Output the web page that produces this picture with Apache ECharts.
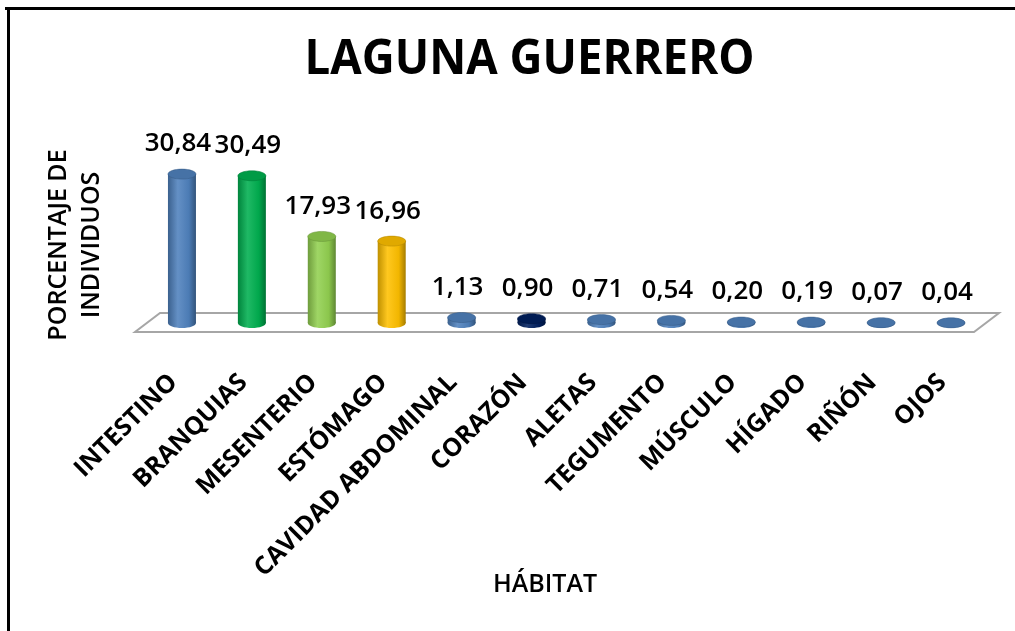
<!DOCTYPE html>
<html><head><meta charset="utf-8">
<script src="https://cdn.jsdelivr.net/npm/echarts@6/dist/echarts.min.js"></script>
<style>html,body{margin:0;padding:0;background:#fff;}#c{width:1015px;height:631px;}</style>
</head><body><div id="c"></div>
<script>
const title = 'LAGUNA GUERRERO';
const xTitle = 'HÁBITAT';
const yTitle = 'PORCENTAJE DE\nINDIVIDUOS';
const categories = ['INTESTINO','BRANQUIAS','MESENTERIO','ESTÓMAGO','CAVIDAD ABDOMINAL','CORAZÓN','ALETAS','TEGUMENTO','MÚSCULO','HÍGADO','RIÑÓN','OJOS'];
const values = [30.84,30.49,17.93,16.96,1.13,0.90,0.71,0.54,0.20,0.19,0.07,0.04];
const barColors = ['#4F81BD','#00B050','#92D050','#FFC000','#4F81BD','#002060','#4F81BD','#4F81BD','#4F81BD','#4F81BD','#4F81BD','#4F81BD'];

function shade(hex, f){
  const n = parseInt(hex.slice(1),16);
  let r=(n>>16)&255,g=(n>>8)&255,b=n&255;
  const t = f<0?0:255, p=Math.abs(f);
  r=Math.round((t-r)*p+r); g=Math.round((t-g)*p+g); b=Math.round((t-b)*p+b);
  return 'rgb('+r+','+g+','+b+')';
}
function bodyGrad(c){
  return new echarts.graphic.LinearGradient(0,0,1,0,[
    {offset:0,color:shade(c,-0.25)},
    {offset:0.35,color:shade(c,0.12)},
    {offset:0.75,color:shade(c,-0.05)},
    {offset:1,color:shade(c,-0.35)}
  ]);
}
const fmt = v => v.toFixed(2).replace('.', ',');

const chart = echarts.init(document.getElementById('c'), null, {renderer:'canvas'});
const FONT = "'Open Sans', 'Liberation Sans', sans-serif";

chart.setOption({
  animation:false,
  backgroundColor:'#fff',
  grid:{left:147, right:29, top:154, bottom:308, containLabel:false},
  xAxis:{
    type:'category', data:categories,
    axisLine:{show:false}, axisTick:{show:false}, splitLine:{show:false},
    axisLabel:{
      interval:0, rotate:45, margin:47, padding:[0,12,0,0],
      fontFamily:FONT, fontWeight:'bold', fontSize:25, color:'#000'
    }
  },
  yAxis:{type:'value', min:0, max:35, show:false},
  graphic:[
    {type:'line', shape:{x1:5,y1:8.5,x2:1015,y2:8.5}, style:{stroke:'#000',lineWidth:3}},
    {type:'line', shape:{x1:8.5,y1:7,x2:8.5,y2:631}, style:{stroke:'#000',lineWidth:3}},
    {type:'text', x:529.5, y:60, scaleX:0.93, style:{text:title, x:0, y:0, align:'center', verticalAlign:'middle',
      font:"bold 49px "+FONT, fill:'#000'}},
    {type:'text', x:545, y:585, style:{text:xTitle, x:0, y:0, align:'center', verticalAlign:'middle',
      font:"600 25px "+FONT, fill:'#000'}},
    {type:'text', x:75, y:245, rotation:Math.PI/2, style:{text:yTitle, x:0, y:0, align:'center', verticalAlign:'middle',
      font:"600 25px "+FONT, lineHeight:33, fill:'#000'}}
  ],
  series:[
    {
      type:'custom', z:1, silent:true,
      data:[[0,0]],
      renderItem(params, api){
        const cs = params.coordSys;
        const y0 = api.coord([0,0])[1];
        const L = cs.x, R = cs.x + cs.width;
        return {type:'polygon', shape:{points:[[L-12,y0+9],[R-12,y0+9],[R+13,y0-10],[L+13,y0-10]]},
          style:{fill:'#fff', stroke:'#A6A6A6', lineWidth:2}};
      }
    },
    {
      type:'custom', z:2, silent:true,
      data: values.map((v,i)=>[i,v]),
      renderItem(params, api){
        const i = params.dataIndex;
        const p0 = api.coord([api.value(0),0]);
        const p1 = api.coord([api.value(0),api.value(1)]);
        const x = p0[0], y0 = p0[1], y1 = p1[1];
        const w = 28, ry = 5;
        const c = barColors[i];
        return {type:'group', children:[
          {type:'ellipse', shape:{cx:x, cy:y0, rx:w/2, ry:ry}, style:{fill:bodyGrad(c)}},
          {type:'rect', shape:{x:x-w/2, y:y1, width:w, height:y0-y1}, style:{fill:bodyGrad(c)}},
          {type:'ellipse', shape:{cx:x, cy:y1, rx:w/2, ry:ry}, style:{fill:shade(c,-0.12), stroke:shade(c,-0.3), lineWidth:0.5}},
          {type:'text', x:x-4, y:y1-17, style:{text:fmt(api.value(1)), align:'center', verticalAlign:'bottom',
            font:"550 26px "+FONT, fill:'#000'}}
        ]};
      }
    }
  ]
});
</script></body></html>
